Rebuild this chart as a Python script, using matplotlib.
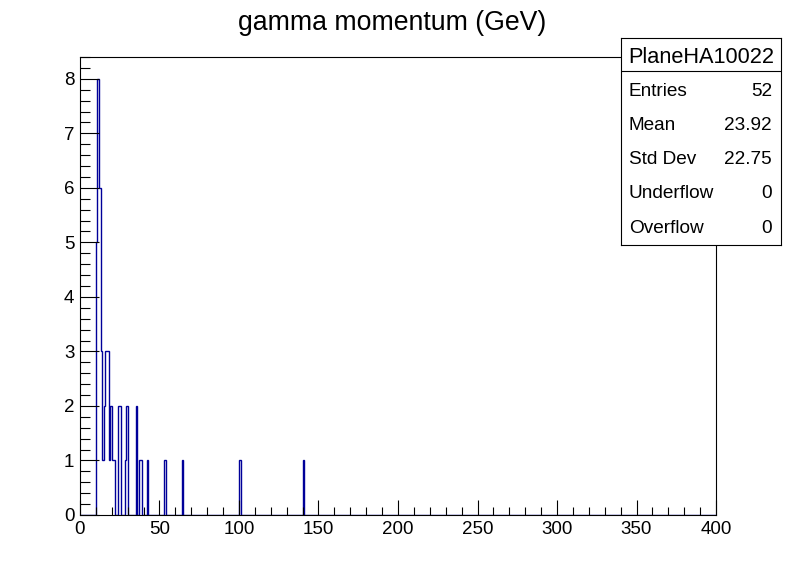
import matplotlib
matplotlib.use("Agg")
import matplotlib.pyplot as plt
import numpy as np
from matplotlib.ticker import MultipleLocator

plt.rcParams["font.family"] = ["Liberation Sans", "DejaVu Sans"]

# histogram content: 400 bins of 1 GeV from 0 to 400, only non-empty bins listed
n_bins = 400
x_min, x_max = 0, 400
bin_index = [10, 11, 12, 13, 14, 15, 16, 17, 18, 19, 20, 21,
             24, 25, 28, 29, 35, 37, 38, 42, 53, 64, 100, 140]
bin_count = [5, 8, 6, 3, 1, 2, 3, 3, 1, 2, 1, 1,
             2, 2, 1, 2, 2, 1, 1, 1, 1, 1, 1, 1]

hist_name = "PlaneHA10022"
title = "gamma momentum (GeV)"
stat_labels = ["Entries", "Mean", "Std Dev", "Underflow", "Overflow"]
stat_values = ["52", "23.92", "22.75", "0", "0"]

edges = np.linspace(x_min, x_max, n_bins + 1)
counts = np.zeros(n_bins)
counts[bin_index] = bin_count

fig = plt.figure(figsize=(7.96, 5.72), dpi=100)
ax = fig.add_axes([0.1005, 0.0997, 0.799, 0.8006])

ax.stairs(counts, edges, color="#000099", linewidth=1.0, baseline=0)

ax.set_xlim(x_min, x_max)
ax.set_ylim(0, counts.max() * 1.05)

ax.xaxis.set_major_locator(MultipleLocator(50))
ax.xaxis.set_minor_locator(MultipleLocator(10))
ax.yaxis.set_major_locator(MultipleLocator(1))
ax.yaxis.set_minor_locator(MultipleLocator(0.2))
ax.tick_params(axis="both", which="both", direction="in", top=False, right=False,
               width=0.8, labelsize=13.5)
ax.tick_params(axis="x", which="major", length=11, pad=4)
ax.tick_params(axis="x", which="minor", length=5.5)
ax.tick_params(axis="y", which="major", length=13.5, pad=4)
ax.tick_params(axis="y", which="minor", length=7)
for sp in ax.spines.values():
    sp.set_linewidth(0.8)

fig.text(0.493, 0.960, title, ha="center", va="center", fontsize=19.2)

# stats box
box = fig.add_axes([0.780, 0.5717, 0.201, 0.3619])
box.set_xlim(0, 1)
box.set_ylim(0, 1)
box.set_xticks([])
box.set_yticks([])
for sp in box.spines.values():
    sp.set_linewidth(0.8)
box.axhline(0.8405, color="black", linewidth=0.8)
box.text(0.5, 0.907, hist_name, ha="center", va="center", fontsize=15.7)
row_y = [0.741, 0.577, 0.413, 0.249, 0.080]
for lab, val, yy in zip(stat_labels, stat_values, row_y):
    box.text(0.05, yy, lab, ha="left", va="center", fontsize=13.7)
    box.text(0.945, yy, val, ha="right", va="center", fontsize=13.7)

fig.savefig("out.png", dpi=100)
